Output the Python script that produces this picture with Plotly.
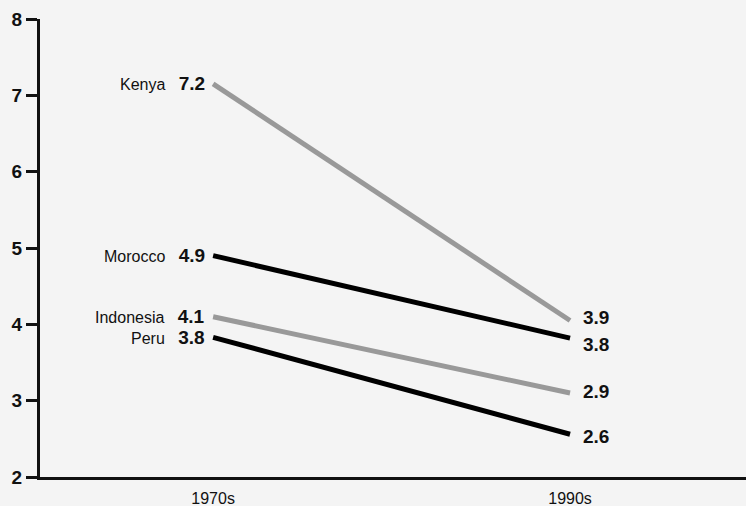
import plotly.graph_objects as go

periods = ["1970s", "1990s"]
countries = ["Kenya", "Morocco", "Indonesia", "Peru"]
start_values = [7.15, 4.9, 4.1, 3.83]
end_values = [4.05, 3.82, 3.1, 2.56]
start_labels = ["7.2", "4.9", "4.1", "3.8"]
end_labels = ["3.9", "3.8", "2.9", "2.6"]
y_ticks = [2, 3, 4, 5, 6, 7, 8]

colors = ["#999999", "#000000", "#999999", "#000000"]
end_label_shift = [3, -6, 2, -2]

FONT = "Liberation Sans, Arial, sans-serif"

fig = go.Figure()
for i, c in enumerate(countries):
    fig.add_trace(go.Scatter(
        x=[0, 1], y=[start_values[i], end_values[i]],
        mode="lines", line=dict(color=colors[i], width=5),
        name=c, showlegend=False, hoverinfo="skip"))

annotations = []
for i, c in enumerate(countries):
    annotations.append(dict(
        x=0, y=start_values[i], xref="x", yref="y",
        text=f"{c}&nbsp;&nbsp;&nbsp;<span style='font-size:19px'><b>{start_labels[i]}</b></span>",
        showarrow=False, xanchor="right", yanchor="middle", xshift=-6,
        font=dict(family=FONT, size=16, color="#111111")))
    annotations.append(dict(
        x=1, y=end_values[i], xref="x", yref="y",
        text=f"<b>{end_labels[i]}</b>",
        showarrow=False, xanchor="left", yanchor="middle", xshift=11,
        yshift=end_label_shift[i],
        font=dict(family=FONT, size=19, color="#111111")))

fig.update_layout(
    width=746, height=506,
    margin=dict(l=40, r=0, t=19, b=29),
    paper_bgcolor="#f4f4f4", plot_bgcolor="#f4f4f4",
    font=dict(family=FONT, color="#111111"),
    annotations=annotations,
    xaxis=dict(range=[-0.485, 1.493], tickvals=[0, 1], ticktext=periods,
               showline=True, linewidth=3, linecolor="#111111",
               showgrid=False, zeroline=False, ticks="",
               ticklabelstandoff=5,
               tickfont=dict(size=16, family=FONT, color="#111111")),
    yaxis=dict(range=[2, 8], tickvals=y_ticks,
               showline=True, linewidth=3, linecolor="#111111",
               showgrid=False, zeroline=False, ticks="outside",
               ticklen=11, tickwidth=3, tickcolor="#111111",
               tickfont=dict(size=19, family=FONT, color="#111111", weight="bold")),
)

fig.write_html("out.html", config={"displayModeBar": False},
               post_script="document.body.style.margin='0';document.body.style.background='#f4f4f4';")
